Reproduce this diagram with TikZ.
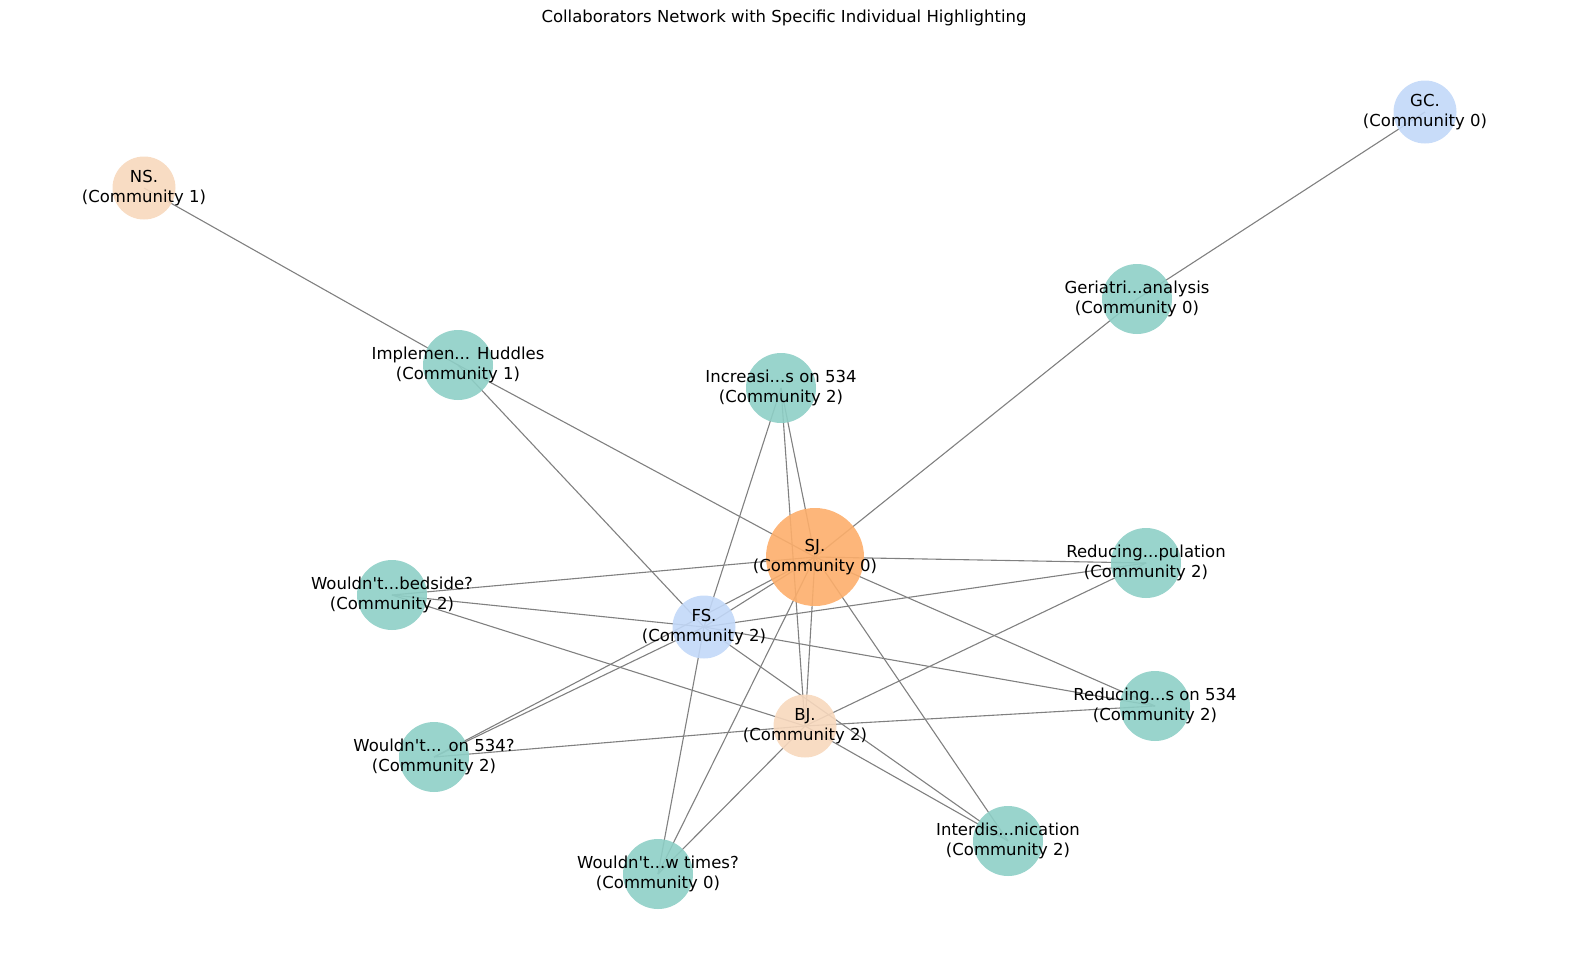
\documentclass[tikz,border=0pt]{standalone}
\usepackage{fontspec}
\setmainfont{DejaVu Sans}[Ligatures=TeXOff]
\pgfdeclarelayer{edges}
\pgfsetlayers{edges,main}
\definecolor{tealc}{HTML}{8ECFC6}
\definecolor{bluec}{HTML}{C2D8F8}
\definecolor{peachc}{HTML}{F7D8BD}
\definecolor{orangec}{HTML}{FDAE6B}
\definecolor{edgec}{HTML}{808080}
\begin{document}
\begin{tikzpicture}[x=1pt,y=-1pt,
  dot/.style={circle,draw=none,fill opacity=0.9,inner sep=0pt},
  topic/.style={dot,fill=tealc,minimum size=70pt},
  person/.style={dot,minimum size=63pt},
  lbl/.style={align=center,inner sep=0pt,font=\fontsize{16.5}{20}\selectfont},
  link/.style={draw=edgec,line width=1.1pt}]
\useasboundingbox (0,0) rectangle (1570,966);
\node[lbl] (title) at (784,18) {Collaborators Network with Specific Individual Highlighting};
% nodes
\node[person,fill=bluec] (gc) at (1425,112) {};
\node[person,fill=peachc] (ns) at (144,188) {};
\node[topic] (ger) at (1137,299) {};
\node[topic] (imp) at (458,365) {};
\node[topic] (inc) at (781,388) {};
\node[dot,fill=orangec,minimum size=98pt] (sj) at (815,557) {};
\node[topic] (redp) at (1146,563) {};
\node[topic] (bed) at (392,595) {};
\node[person,fill=bluec] (fs) at (704,627) {};
\node[topic] (red5) at (1155,706) {};
\node[person,fill=peachc] (bj) at (805,726) {};
\node[topic] (w534) at (434,757) {};
\node[topic] (int) at (1008,841) {};
\node[topic] (wt) at (658,874) {};
% labels
\node[lbl] (gcl) at (gc) {GC.\\(Community 0)};
\node[lbl] (nsl) at (ns) {NS.\\(Community 1)};
\node[lbl] (gerl) at (ger) {Geriatri...analysis\\(Community 0)};
\node[lbl] (impl) at (imp) {Implemen... Huddles\\(Community 1)};
\node[lbl] (incl) at (inc) {Increasi...s on 534\\(Community 2)};
\node[lbl] (sjl) at (sj) {SJ.\\(Community 0)};
\node[lbl] (redpl) at (redp) {Reducing...pulation\\(Community 2)};
\node[lbl] (bedl) at (bed) {Wouldn't...bedside?\\(Community 2)};
\node[lbl] (fsl) at (fs) {FS.\\(Community 2)};
\node[lbl] (red5l) at (red5) {Reducing...s on 534\\(Community 2)};
\node[lbl] (bjl) at (bj) {BJ.\\(Community 2)};
\node[lbl] (w534l) at (w534) {Wouldn't... on 534?\\(Community 2)};
\node[lbl] (intl) at (int) {Interdis...nication\\(Community 2)};
\node[lbl] (wtl) at (wt) {Wouldn't...w times?\\(Community 0)};
% edges
\begin{pgfonlayer}{edges}
\foreach \a/\b in {gc/ger, ns/imp, ger/sj, imp/sj, imp/fs,
  inc/sj, inc/fs, inc/bj, sj/fs, sj/redp, sj/bed, sj/red5, sj/bj, sj/int, sj/wt, sj/w534,
  fs/bed, fs/redp, fs/red5, fs/w534, fs/wt, fs/int,
  bj/bed, bj/redp, bj/red5, bj/w534, bj/int, bj/wt}
  \draw[link] (\a.center) -- (\b.center);
\end{pgfonlayer}
\end{tikzpicture}
\end{document}
